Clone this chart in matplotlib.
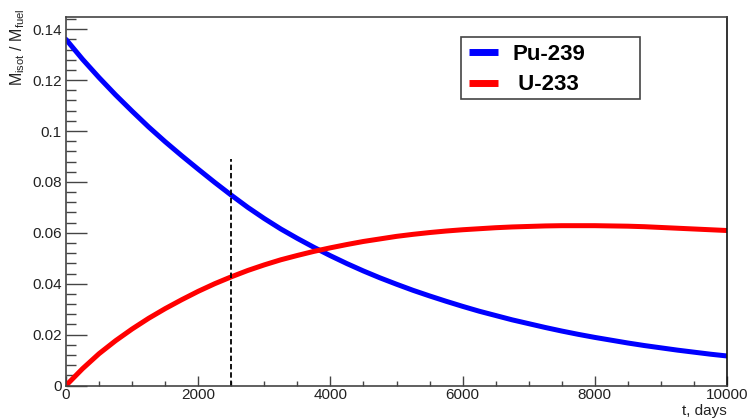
import matplotlib
matplotlib.use("Agg")
import matplotlib.pyplot as plt
from matplotlib.patches import Rectangle
from matplotlib.ticker import MultipleLocator, FuncFormatter

plt.rcParams['font.family'] = ['Liberation Sans', 'DejaVu Sans']
plt.rcParams['mathtext.fontset'] = 'custom'
plt.rcParams['mathtext.rm'] = 'Liberation Sans'
plt.rcParams['mathtext.it'] = 'Liberation Sans:italic'
plt.rcParams['mathtext.bf'] = 'Liberation Sans:bold'

# ---- data ----
t_days = [0, 250, 500, 750, 1000, 1250, 1500, 1750, 2000, 2250, 2500,
          2750, 3000, 3250, 3500, 3750, 4000, 4250, 4500, 4750, 5000,
          5250, 5500, 5750, 6000, 6250, 6500, 6750, 7000, 7250, 7500,
          7750, 8000, 8250, 8500, 8750, 9000, 9250, 9500, 9750, 10000]
pu239 = [0.1360, 0.1282, 0.1210, 0.1142, 0.1078, 0.1016, 0.0958, 0.0903, 0.0850,
         0.0798, 0.0748, 0.0700, 0.0656, 0.0615, 0.0578, 0.0543, 0.0510, 0.0479,
         0.0450, 0.0423, 0.0398, 0.0374, 0.0352, 0.0331, 0.0311, 0.0292, 0.0275,
         0.0258, 0.0243, 0.0228, 0.0214, 0.0201, 0.0189, 0.0178, 0.0167, 0.0157,
         0.0148, 0.0139, 0.0131, 0.0123, 0.0116]
u233 = [0.0, 0.0066, 0.0125, 0.0176, 0.0222, 0.0264, 0.0302, 0.0337, 0.0370,
        0.0400, 0.0427, 0.0452, 0.0474, 0.0494, 0.0511, 0.0527, 0.0541, 0.0554,
        0.0566, 0.0576, 0.0586, 0.0594, 0.0601, 0.0607, 0.0612, 0.0616, 0.0620,
        0.0623, 0.0625, 0.0627, 0.0628, 0.0628, 0.0628, 0.0627, 0.0626, 0.0624,
        0.0621, 0.0618, 0.0615, 0.0612, 0.0609]
marker_t = 2500
marker_top = 0.089
series_labels = ["Pu-239", " U-233"]
xlabel = "t, days"
ylabel = r"M$_{\rm isot}$ / M$_{\rm fuel}$"

fig = plt.figure(figsize=(7.5, 4.2), dpi=100)
W, H = 750, 420
ax = fig.add_axes([66 / W, 1 - 385.5 / H, (727 - 66) / W, (385.5 - 17) / H])

l1, = ax.plot(t_days, pu239, color='#0000ff', lw=3.6, solid_capstyle='round',
              solid_joinstyle='round')
l2, = ax.plot(t_days, u233, color='#ff0000', lw=3.6, solid_capstyle='round',
              solid_joinstyle='round')
ax.plot([marker_t, marker_t], [0, marker_top], color='black', lw=1.3,
        dashes=(3, 1.6))

ax.set_xlim(0, 10000)
ax.set_ylim(0, 0.1448)

ax.xaxis.set_major_locator(MultipleLocator(2000))
ax.xaxis.set_minor_locator(MultipleLocator(500))
ax.yaxis.set_major_locator(MultipleLocator(0.02))
ax.yaxis.set_minor_locator(MultipleLocator(0.004))


def yfmt(v, pos):
    if abs(v) < 1e-9:
        return "0"
    return ("%.2f" % v).rstrip('0')


ax.yaxis.set_major_formatter(FuncFormatter(yfmt))
ax.xaxis.set_major_formatter(FuncFormatter(lambda v, p: "%d" % round(v)))

tc = '#444444'
ax.tick_params(axis='y', which='major', direction='in', length=15, width=1.0,
               color=tc, labelsize=11, labelcolor='#222222', pad=3)
ax.tick_params(axis='y', which='minor', direction='in', length=7.5, width=1.0,
               color=tc)
ax.tick_params(axis='x', which='major', direction='in', length=7.5, width=1.0,
               color=tc, labelsize=11, labelcolor='#222222', pad=2)
ax.tick_params(axis='x', which='minor', direction='in', length=3.8, width=1.0,
               color=tc)
for s in ax.spines.values():
    s.set_color('#444444')
    s.set_linewidth(1.2)
ax.spines['right'].set_color('#111111')

fig.text(727 / W, 1 - 411 / H, xlabel, ha='right', va='center', fontsize=11,
         color='#222222')
fig.text(18 / W, 1 - 8 / H, ylabel, ha='center', va='top', rotation=90,
         fontsize=11.5, color='#222222')

# legend
fig.patches.append(Rectangle((461 / W, 1 - 99 / H), (640 - 461) / W, (99 - 37) / H,
                             transform=fig.transFigure, fill=True, facecolor='white',
                             edgecolor='#444444', lw=1.2, zorder=5))
leg = fig.legend([l1, l2], series_labels, loc='upper left',
                 bbox_to_anchor=(469 / W, 1 - 44 / H), frameon=False,
                 prop={'weight': 'bold', 'size': 16}, handlelength=1.3,
                 handletextpad=0.65, labelspacing=0.42, borderpad=0, borderaxespad=0)
for h in leg.legend_handles:
    h.set_linewidth(5)
    h.set_solid_capstyle('butt')
leg.set_zorder(6)

fig.savefig("out.png", dpi=100)
